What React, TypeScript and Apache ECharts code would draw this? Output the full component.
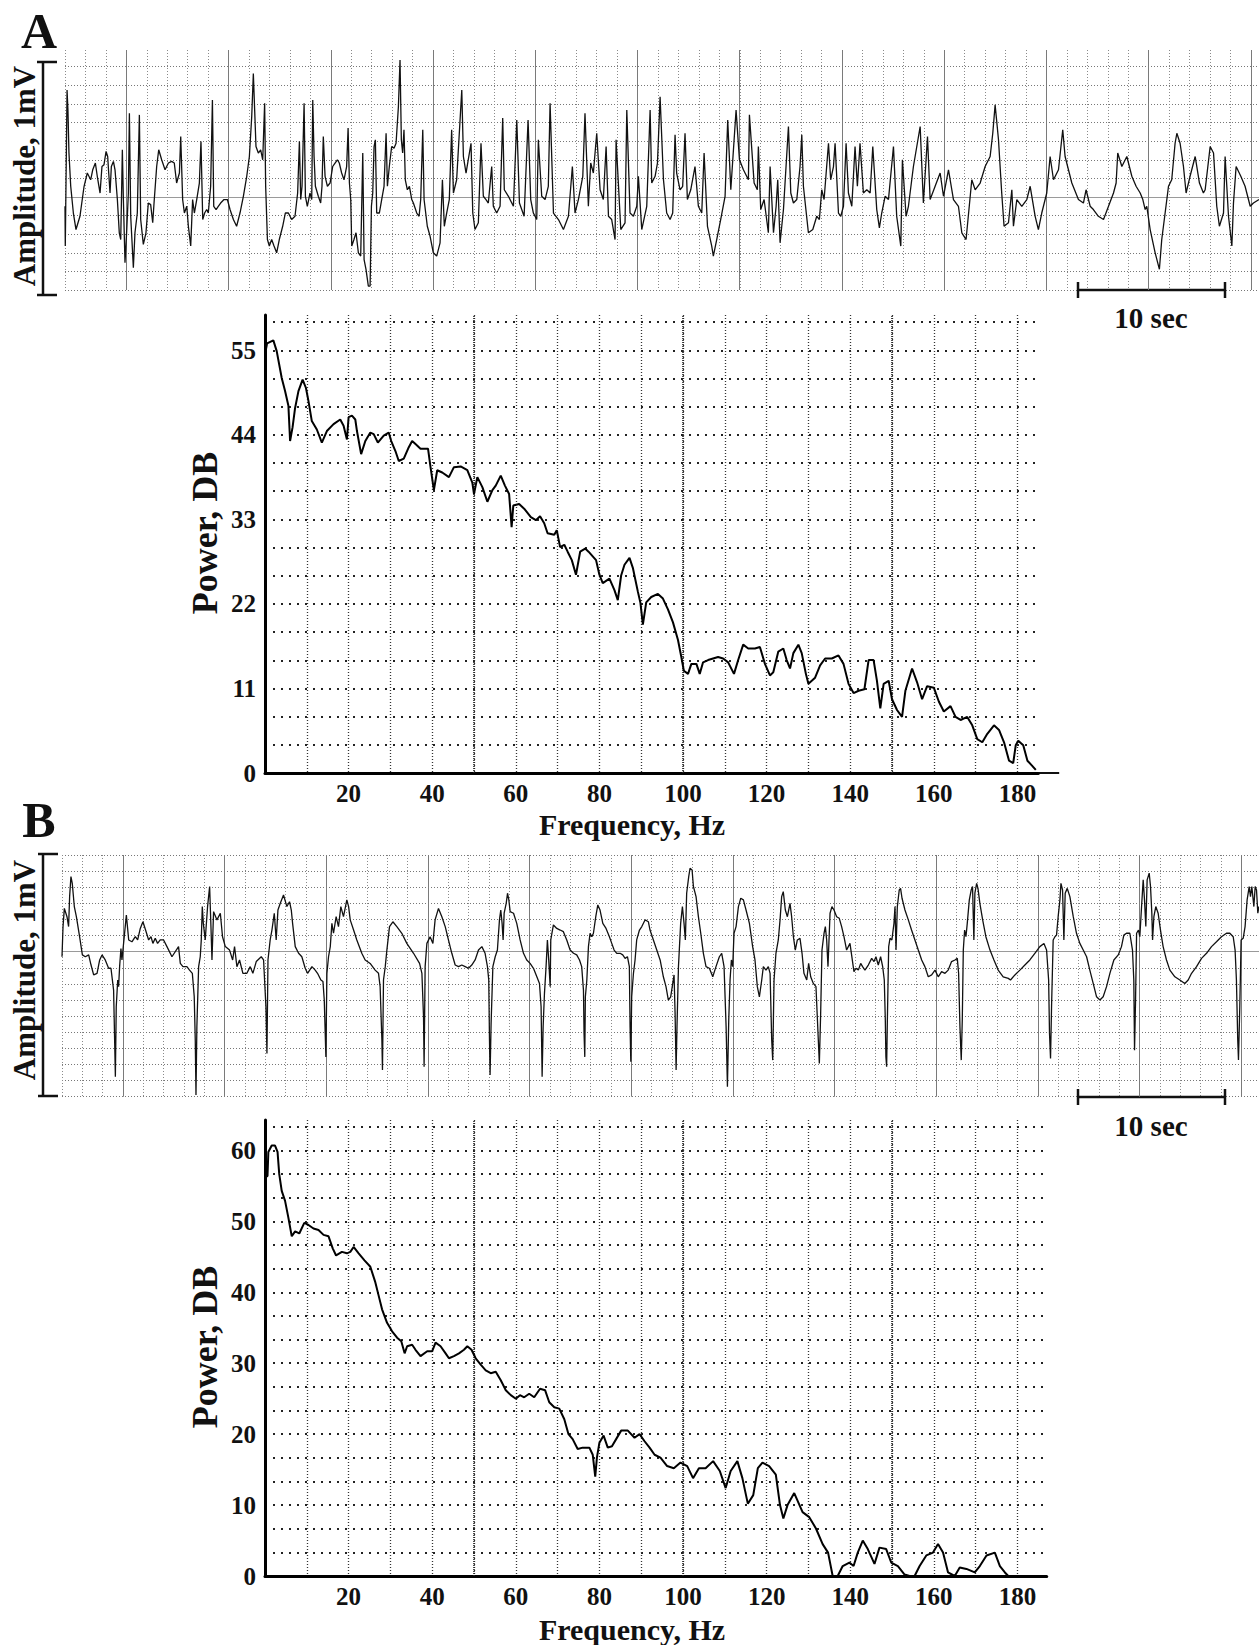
import React, { useEffect, useRef } from 'react';
import * as echarts from 'echarts';

// ---------- DATA ----------
// Trace A: [time (s), amplitude (mV)]
const traceA: [number, number][] = [
  [0,-0.040],[0.02,-0.211],[0.14,0.460],[0.20,0.374],[0.27,0.189],[0.39,0.046],[0.57,-0.069],[0.75,-0.140],[1.02,-0.083],[1.30,0.046],[1.52,0.103],[1.75,0.074],[1.89,0.117],[2.07,0.146],[2.20,0.089],[2.39,0.017],[2.52,0.131],[2.66,0.139],[2.80,0.196],[2.91,0.174],[2.98,0.103],[3.07,0.017],[3.16,0.131],[3.30,0.153],[3.41,0.117],[3.57,-0.011],[3.70,-0.154],[3.80,-0.183],[3.91,0.203],[3.98,-0.011],[4.09,-0.283],[4.20,-0.154],[4.32,0.017],[4.39,0.360],[4.48,-0.083],[4.66,-0.304],[4.77,-0.154],[4.93,-0.069],[5.07,0.353],[5.16,-0.097],[5.34,-0.204],[5.52,-0.154],[5.68,-0.026],[5.84,-0.033],[5.98,-0.111],[6.07,-0.026],[6.25,0.131],[6.39,0.203],[6.59,0.160],[6.82,0.117],[7.05,0.146],[7.27,0.153],[7.45,0.146],[7.61,0.060],[7.80,0.103],[7.89,0.260],[8.02,-0.011],[8.14,-0.069],[8.30,-0.040],[8.41,-0.126],[8.57,-0.211],[8.70,-0.011],[8.82,-0.069],[8.98,-0.011],[9.16,0.060],[9.27,0.239],[9.39,-0.097],[9.52,-0.069],[9.66,-0.054],[9.77,-0.069],[9.93,0.046],[10.05,0.417],[10.14,-0.040],[10.30,-0.054],[10.45,-0.040],[10.61,-0.026],[10.84,-0.011],[11.07,-0.011],[11.25,-0.054],[11.48,-0.097],[11.70,-0.126],[11.93,-0.069],[12.16,0.003],[12.39,0.089],[12.57,0.174],[12.73,0.346],[12.84,0.531],[12.93,0.374],[13.02,0.217],[13.18,0.189],[13.34,0.203],[13.48,0.160],[13.61,0.403],[13.68,0.046],[13.80,-0.183],[13.93,-0.211],[14.09,-0.183],[14.25,-0.211],[14.43,-0.240],[14.61,-0.183],[14.84,-0.126],[15.02,-0.069],[15.23,-0.069],[15.45,-0.097],[15.68,-0.083],[15.86,0.017],[15.98,0.239],[16.07,-0.011],[16.16,0.046],[16.30,0.403],[16.39,0.003],[16.52,-0.040],[16.70,0.017],[16.82,-0.011],[16.89,0.417],[16.98,0.174],[17.07,0.046],[17.27,0.003],[17.43,-0.026],[17.52,0.046],[17.61,0.260],[17.73,0.089],[17.89,0.046],[18.07,0.060],[18.25,0.131],[18.41,0.146],[18.57,0.160],[18.70,0.146],[18.86,0.103],[19.02,0.074],[19.20,0.131],[19.30,0.296],[19.39,0.060],[19.48,-0.011],[19.55,-0.211],[19.70,-0.183],[19.84,-0.154],[20.00,-0.240],[20.16,-0.254],[20.30,0.189],[20.39,-0.269],[20.52,-0.311],[20.68,-0.383],[20.80,-0.383],[20.89,-0.040],[20.98,0.017],[21.07,0.217],[21.16,0.246],[21.25,-0.069],[21.43,-0.069],[21.59,-0.011],[21.75,0.046],[21.89,0.274],[21.98,0.046],[22.11,0.131],[22.27,0.217],[22.43,0.210],[22.57,0.231],[22.73,0.389],[22.84,0.589],[22.93,0.246],[23.02,0.189],[23.11,0.289],[23.20,0.074],[23.34,0.031],[23.48,0.046],[23.64,-0.011],[23.75,-0.026],[23.98,-0.069],
  [24.14,-0.083],[24.25,-0.011],[24.39,0.289],[24.48,-0.011],[24.70,-0.126],[24.89,-0.169],[25.11,-0.240],[25.34,-0.254],[25.57,-0.197],[25.73,0.074],[25.86,-0.126],[26.02,-0.069],[26.20,-0.011],[26.36,0.289],[26.48,0.017],[26.70,0.074],[27.05,0.460],[27.16,0.174],[27.34,0.103],[27.68,0.231],[27.80,-0.069],[27.95,-0.140],[28.18,-0.111],[28.36,0.231],[28.52,0.003],[28.70,-0.011],[28.86,-0.026],[29.09,0.131],[29.20,-0.040],[29.43,-0.069],[29.66,-0.040],[29.84,0.339],[29.95,0.031],[30.23,0.003],[30.57,-0.040],[30.80,0.331],[30.98,-0.026],[31.30,-0.083],[31.57,0.331],[31.75,-0.011],[31.93,-0.069],[32.16,-0.097],[32.27,0.246],[32.50,0.003],[32.73,-0.011],[32.95,0.046],[33.07,0.403],[33.30,-0.069],[33.64,-0.097],[33.98,-0.140],[34.32,-0.083],[34.59,0.131],[34.77,-0.069],[35.00,-0.011],[35.30,0.089],[35.45,0.360],[35.68,-0.040],[35.84,0.146],[36.02,0.103],[36.25,0.274],[36.48,0.031],[36.70,-0.011],[36.89,0.217],[37.05,-0.083],[37.27,-0.097],[37.50,-0.183],[37.57,0.246],[37.89,-0.140],[38.18,-0.111],[38.30,0.374],[38.52,-0.069],[38.75,-0.083],[38.98,-0.040],[39.09,0.089],[39.32,-0.140],[39.66,-0.040],[39.89,0.374],[40.00,0.060],[40.23,0.089],[40.39,0.146],[40.57,0.431],[40.80,0.074],[41.02,-0.069],[41.25,-0.097],[41.43,-0.069],[41.59,0.267],[41.70,0.103],[41.93,0.031],[42.11,0.046],[42.27,0.274],[42.43,-0.011],[42.66,0.031],[42.95,0.131],[43.18,-0.040],[43.41,-0.069],[43.57,0.189],[43.80,-0.126],[44.09,-0.211],[44.20,-0.254],[44.43,-0.183],[44.70,-0.097],[45.00,0.003],[45.18,0.331],[45.39,0.031],[45.75,0.374],[45.98,0.160],[46.25,0.117],[46.59,0.074],[46.66,0.353],[46.98,0.060],[47.20,0.031],[47.27,0.217],[47.43,-0.054],[47.66,-0.011],[47.95,-0.154],[48.07,0.131],[48.30,-0.154],[48.48,-0.040],[48.59,0.074],[48.75,-0.197],[48.98,-0.054],[49.32,0.303],[49.48,0.017],[49.66,-0.026],[49.89,-0.011],[50.11,0.131],[50.23,0.267],[50.34,0.046],[50.68,-0.154],[50.98,-0.140],[51.25,-0.083],[51.43,-0.097],[51.59,0.031],[51.75,-0.011],[52.05,0.231],
  [52.20,0.074],[52.39,0.131],[52.50,0.231],[52.73,-0.069],[52.89,-0.083],[53.07,-0.040],[53.25,0.231],[53.41,0.017],[53.64,-0.040],[53.86,0.217],[54.02,0.046],[54.20,0.231],[54.43,0.017],[54.66,0.031],[54.89,0.017],[55.07,0.217],[55.34,-0.054],[55.52,-0.133],[55.68,-0.069],[55.91,0.003],[56.14,-0.011],[56.48,0.217],[56.70,-0.083],[56.98,-0.211],[57.09,0.160],[57.34,-0.083],[57.50,-0.040],[57.84,0.131],[58.30,0.303],[58.52,-0.026],[58.80,0.260],[58.98,-0.011],[59.32,0.046],[59.66,0.103],[59.89,0.003],[60.23,0.117],[60.57,-0.011],[60.91,-0.040],[61.14,-0.154],[61.43,-0.183],[61.82,0.074],[62.05,0.031],[62.39,0.060],[62.73,0.131],[63.07,0.174],[63.25,0.274],[63.41,0.396],[63.64,0.246],[63.86,0.017],[64.02,-0.126],[64.32,-0.111],[64.55,0.031],[64.66,-0.126],[64.89,-0.011],[65.23,-0.040],[65.57,-0.011],[65.80,0.046],[66.14,-0.083],[66.36,-0.140],[66.59,-0.069],[66.93,0.017],[67.16,0.174],[67.39,0.074],[67.73,0.117],[68.02,0.289],[68.18,0.174],[68.64,0.060],[69.09,-0.011],[69.43,-0.026],[69.61,0.031],[69.89,-0.040],[70.11,-0.054],[70.45,-0.083],[70.80,-0.097],[71.14,-0.040],[71.48,0.017],[71.66,0.060],[71.77,0.189],[72.05,0.131],[72.39,0.174],[72.73,0.089],[73.02,0.046],[73.30,0.017],[73.48,-0.011],[73.64,-0.054],[73.75,-0.040],[73.98,-0.140],[74.32,-0.240],[74.61,-0.311],[74.77,-0.183],[75.00,-0.069],[75.23,0.046],[75.45,0.074],[75.68,0.231],[75.80,0.274],[76.02,0.231],[76.25,0.131],[76.43,0.017],[76.70,0.089],[77.05,0.174],[77.34,0.060],[77.61,0.017],[77.73,0.031],[78.07,0.217],[78.30,0.189],[78.52,-0.040],[78.70,-0.126],[78.98,-0.069],[79.09,0.174],[79.32,-0.083],[79.55,-0.211],[79.66,-0.026],[79.84,0.131],[80.16,0.089],[80.45,0.046],[80.80,-0.040],[81.02,-0.026],[81.40,-0.011],
];

// Trace B: [time (s), amplitude (mV)]
const traceB: [number, number][] = [
  [0.00,-0.022],[0.07,0.109],[0.16,0.188],[0.34,0.152],[0.45,0.109],[0.52,0.239],[0.61,0.326],[0.70,0.297],[0.84,0.196],[0.98,0.152],[1.20,0.065],[1.39,-0.014],[1.59,-0.022],[1.82,-0.014],[1.98,-0.058],[2.16,-0.101],[2.39,-0.094],[2.57,-0.036],[2.73,-0.014],[2.95,-0.036],[3.18,-0.072],[3.34,-0.072],[3.52,-0.167],[3.59,-0.384],[3.64,-0.543],[3.70,-0.239],[3.80,-0.123],[3.86,-0.152],[3.93,-0.065],[4.02,0.014],[4.09,-0.036],[4.39,0.159],[4.55,0.051],[4.77,0.043],[5.00,0.065],[5.16,0.051],[5.34,0.101],[5.52,0.130],[5.70,0.094],[5.91,0.051],[6.07,0.065],[6.20,0.036],[6.36,0.058],[6.52,0.036],[6.70,0.051],[6.93,0.051],[7.16,0.022],[7.50,-0.022],[7.95,0.022],[8.07,-0.051],[8.25,-0.065],[8.52,-0.065],[8.70,-0.080],[8.89,-0.094],[9.02,-0.196],[9.09,-0.384],[9.14,-0.623],[9.20,-0.326],[9.32,-0.065],[9.43,-0.022],[9.50,0.051],[9.57,0.196],[9.64,0.123],[9.77,0.051],[9.93,0.196],[10.07,0.283],[10.16,0.109],[10.23,-0.036],[10.34,0.174],[10.57,0.138],[10.80,0.167],[10.95,0.065],[11.14,0.022],[11.43,0.007],[11.64,-0.036],[11.77,0.022],[11.93,-0.065],[12.11,-0.036],[12.34,-0.094],[12.61,-0.094],[12.84,-0.065],[13.02,-0.094],[13.25,-0.043],[13.59,-0.022],[13.75,-0.036],[13.91,-0.239],[13.98,-0.442],[14.05,-0.036],[14.20,0.051],[14.32,0.094],[14.48,0.167],[14.61,0.051],[14.73,0.181],[14.89,0.210],[15.11,0.246],[15.34,0.196],[15.52,0.217],[15.64,0.181],[15.73,0.123],[15.91,0.022],[16.14,-0.007],[16.36,-0.022],[16.59,-0.072],[16.75,-0.094],[17.05,-0.065],[17.27,-0.080],[17.43,-0.094],[17.66,-0.123],[17.80,-0.130],[17.89,-0.210],[18.00,-0.457],[18.07,-0.094],[18.18,-0.022],[18.30,0.022],[18.41,0.123],[18.52,0.080],[18.70,0.152],[18.86,0.109],[19.02,0.196],[19.20,0.152],[19.43,0.225],[19.55,0.196],[19.66,0.138],[19.89,0.094],[20.11,0.051],[20.45,-0.007],[20.68,-0.036],[21.02,-0.051],[21.36,-0.080],[21.59,-0.094],[21.70,-0.152],[21.82,-0.384],[21.86,-0.514],[21.93,-0.123],[22.05,-0.065],[22.16,0.007],[22.34,0.109],[22.57,0.130],[22.84,0.109],[23.18,0.080],[23.52,0.036],[23.98,-0.007],[24.39,-0.051],[24.55,-0.094],[24.66,-0.283],[24.70,-0.500],[24.77,-0.065],[24.89,0.036],
  [25.11,0.065],[25.30,0.036],[25.45,0.138],[25.68,0.188],[25.91,0.152],[26.14,0.109],[26.36,0.051],[26.59,-0.007],[26.82,-0.058],[27.05,-0.065],[27.27,-0.058],[27.50,-0.065],[27.73,-0.072],[27.95,-0.058],[28.18,-0.036],[28.41,0.007],[28.64,0.022],[28.86,-0.007],[29.02,-0.065],[29.11,-0.123],[29.16,-0.384],[29.20,-0.536],[29.27,-0.312],[29.39,-0.065],[29.55,-0.022],[29.70,0.007],[29.84,0.138],[29.93,0.181],[30.02,0.123],[30.09,0.051],[30.16,0.167],[30.30,0.210],[30.39,0.254],[30.48,0.225],[30.57,0.174],[30.80,0.167],[31.02,0.123],[31.25,0.051],[31.48,-0.007],[31.70,-0.036],[31.93,-0.051],[32.16,-0.072],[32.39,-0.109],[32.57,-0.138],[32.68,-0.239],[32.75,-0.543],[32.82,-0.326],[32.91,-0.181],[33.02,-0.065],[33.11,0.051],[33.20,-0.036],[33.30,-0.152],[33.34,0.051],[33.52,0.116],[33.75,0.101],[33.98,0.094],[34.20,0.087],[34.43,0.051],[34.66,0.007],[34.89,-0.007],[35.11,-0.014],[35.30,-0.036],[35.45,-0.065],[35.57,-0.167],[35.61,-0.355],[35.66,-0.457],[35.70,-0.196],[35.80,-0.123],[35.91,0.022],[36.02,0.080],[36.14,0.065],[36.25,0.080],[36.41,0.152],[36.55,0.203],[36.70,0.181],[36.89,0.123],[37.11,0.101],[37.34,0.065],[37.50,0.036],[37.66,0.007],[37.84,-0.007],[38.07,-0.007],[38.25,-0.014],[38.41,-0.029],[38.57,-0.022],[38.70,-0.065],[38.75,-0.326],[38.80,-0.478],[38.86,-0.196],[38.98,-0.094],[39.09,-0.036],[39.20,0.051],[39.39,0.094],[39.55,0.109],[39.77,0.138],[40.00,0.130],[40.11,0.094],[40.34,0.051],[40.57,0.007],[40.80,-0.036],[41.02,-0.109],[41.20,-0.152],[41.36,-0.210],[41.52,-0.196],[41.66,-0.138],[41.75,-0.101],[41.82,-0.268],[41.89,-0.514],[41.95,-0.326],[42.05,-0.065],[42.20,0.123],[42.32,0.196],[42.43,0.123],[42.52,0.051],[42.61,0.254],[42.75,0.326],[42.84,0.362],[42.98,0.355],[43.07,0.283],[43.25,0.239],[43.41,0.152],[43.57,0.080],[43.75,-0.007],[43.93,-0.065],[44.16,-0.072],[44.39,-0.109],[44.61,-0.065],[44.84,-0.022],[45.00,-0.007],[45.16,-0.065],[45.30,-0.326],[45.39,-0.587],[45.48,-0.297],[45.57,-0.123],[45.66,-0.036],[45.75,-0.065],[45.84,0.080],[45.98,0.109],[46.14,0.196],[46.30,0.232],[46.48,0.225],[46.66,0.181],[46.89,0.123],[47.11,0.022],[47.27,-0.036],[47.43,-0.152],[47.57,-0.196],[47.73,-0.123],[47.84,-0.065],[48.02,-0.080],[48.18,-0.065],[48.30,-0.094],[48.41,-0.384],[48.48,-0.471],[48.57,-0.123],[48.70,-0.007],[48.86,0.051],[48.98,0.138],[49.09,0.239],[49.20,0.261],[49.34,0.181],[49.48,0.152],[49.66,0.210],[49.77,0.152],[49.89,0.065],[50.02,0.007],[50.16,0.051],[50.34,0.058],[50.48,-0.007],[50.61,-0.094],[50.80,-0.123],[50.93,-0.051],[51.07,-0.109],[51.25,-0.138],[51.43,-0.152],[51.52,-0.283],[51.59,-0.384],[51.66,-0.486],[51.75,-0.268],[51.84,0.007],[51.98,0.080],[52.07,0.109],[52.16,0.051],[52.25,-0.065],[52.39,0.167],[52.52,0.196],[52.66,0.181],[52.84,0.152],[53.02,0.145],[53.18,0.109],[53.34,0.065],[53.52,0.007],[53.75,0.036],
  [54.02,-0.087],[54.16,-0.072],[54.32,-0.080],[54.48,-0.051],[54.61,-0.065],[54.77,-0.080],[55.00,-0.058],[55.23,-0.029],[55.39,-0.043],[55.52,-0.022],[55.68,-0.058],[55.84,-0.022],[55.98,-0.065],[56.09,-0.123],[56.16,-0.297],[56.20,-0.457],[56.25,-0.500],[56.30,-0.297],[56.39,0.022],[56.48,0.058],[56.61,0.051],[56.75,0.123],[56.82,0.196],[56.89,0.007],[56.98,0.196],[57.11,0.268],[57.20,0.275],[57.30,0.232],[57.50,0.181],[57.73,0.138],[57.95,0.094],[58.18,0.051],[58.41,0.007],[58.64,-0.036],[58.86,-0.065],[59.09,-0.109],[59.32,-0.101],[59.55,-0.080],[59.77,-0.109],[60.00,-0.087],[60.23,-0.094],[60.45,-0.080],[60.68,-0.043],[60.91,-0.036],[61.07,-0.029],[61.16,-0.094],[61.25,-0.326],[61.34,-0.471],[61.41,-0.297],[61.48,0.007],[61.57,0.094],[61.66,0.065],[61.75,0.123],[61.89,0.225],[62.02,0.268],[62.11,0.283],[62.20,0.051],[62.27,0.254],[62.39,0.297],[62.48,0.275],[62.61,0.210],[62.80,0.138],[63.02,0.065],[63.30,0.007],[63.57,-0.036],[63.86,-0.080],[64.20,-0.109],[64.55,-0.116],[64.70,-0.123],[65.00,-0.101],[65.34,-0.080],[65.68,-0.058],[66.02,-0.036],[66.36,-0.007],[66.70,0.022],[66.98,0.036],[67.16,0.007],[67.30,-0.123],[67.36,-0.355],[67.43,-0.464],[67.50,-0.239],[67.61,0.051],[67.73,0.065],[67.84,0.072],[67.95,0.152],[68.07,0.225],[68.14,0.297],[68.25,0.268],[68.34,0.051],[68.43,0.254],[68.57,0.275],[68.75,0.239],[68.98,0.152],[69.20,0.080],[69.43,0.036],[69.66,0.007],[69.89,-0.022],[70.11,-0.080],[70.34,-0.138],[70.57,-0.196],[70.80,-0.210],[71.02,-0.196],[71.25,-0.152],[71.48,-0.094],[71.75,-0.036],[72.05,-0.014],[72.27,0.022],[72.43,0.072],[72.61,0.080],[72.84,0.080],[73.02,0.007],[73.11,-0.123],[73.16,-0.428],[73.23,-0.210],[73.30,0.080],[73.43,0.094],[73.52,0.065],[73.64,0.196],[73.75,0.312],[73.84,0.225],[73.93,0.109],[74.02,0.312],[74.16,0.341],[74.25,0.283],[74.34,0.167],[74.39,0.051],[74.48,0.152],[74.61,0.196],[74.77,0.167],[74.93,0.094],[75.11,0.022],[75.34,-0.036],[75.57,-0.080],[75.91,-0.109],[76.25,-0.123],[76.59,-0.138],[76.82,-0.123],[77.05,-0.094],[77.39,-0.065],[77.73,-0.029],[78.07,-0.007],[78.41,0.022],[78.75,0.043],[79.09,0.065],[79.43,0.080],[79.66,0.080],[79.89,0.065],[80.02,0.007],[80.11,-0.123],[80.20,-0.384],[80.25,-0.471],[80.34,-0.239],[80.43,0.051],[80.57,0.058],[80.70,0.109],[80.84,0.225],[80.98,0.283],[81.07,0.239],[81.16,0.283],[81.30,0.196],[81.39,0.283],[81.48,0.268],[81.57,0.167],[81.64,0.196],
];

// Spectrum A: [frequency (Hz), power (dB)]
const spectrumA: [number, number][] = [
  [0,54.5],[0.5,55.9],[2.0,56.3],[2.8,54.9],[4.0,51.4],[4.8,49.7],[5.6,47.8],[6.0,43.2],[6.6,45.0],[7.2,47.5],[8.0,49.7],[9.0,51.2],[9.8,50.1],[10.4,48.4],[11.2,45.8],[12.4,44.7],[13.6,43.0],[14.8,44.5],[16.4,45.4],[18.0,46.0],[18.8,45.2],[19.6,43.4],[20.0,46.3],[20.8,46.5],[21.6,46.0],[22.0,44.5],[23.0,41.5],[24.0,43.2],[25.2,44.3],[26.0,44.1],[27.0,43.0],[28.4,43.9],[29.6,44.3],[30.2,43.2],[31.2,41.9],[32.0,40.6],[33.2,40.9],[34.4,42.4],[35.2,43.2],[36.0,42.8],[37.2,42.2],[39.0,42.2],[39.6,39.8],[40.4,36.8],[41.2,39.4],[42.4,39.1],[44.0,38.5],[45.2,39.8],[46.8,39.9],[48.4,39.4],[49.6,37.8],[50.0,36.3],[50.8,38.5],[52.0,37.2],[53.2,35.3],[54.4,36.8],[55.2,37.4],[56.4,38.7],[57.4,37.4],[58.4,36.3],[59.0,32.0],[59.4,34.8],[60.8,35.0],[62.0,34.4],[63.6,33.3],[64.8,32.9],[65.8,33.4],[66.8,32.5],[67.6,31.2],[69.2,31.0],[69.8,31.6],[70.6,29.4],[71.6,29.7],[72.4,28.8],[73.4,27.7],[74.4,25.8],[75.4,28.8],[76.6,29.2],[77.4,28.8],[79.2,27.7],[80.0,25.8],[80.8,24.7],[82.4,25.3],[83.6,23.8],[84.4,22.5],[85.2,25.7],[86.0,27.1],[87.2,28.0],[88.0,26.7],[89.2,23.6],[89.8,22.2],[90.4,19.3],[91.2,22.2],[92.4,22.9],[94.0,23.3],[95.2,22.7],[96.4,21.3],[97.6,19.6],[98.8,17.3],[99.6,15.1],[100.2,13.3],[101.2,12.9],[102.0,14.2],[103.2,14.2],[104.0,12.9],[104.8,14.4],[106.0,14.7],[107.2,14.9],[108.4,15.1],[109.6,14.9],[110.8,14.4],[112.2,12.9],[113.2,14.7],[114.4,16.7],[115.6,16.2],[117.2,16.2],[118.4,16.4],[119.6,14.2],[120.8,12.7],[121.6,13.1],[122.8,15.8],[124.0,16.2],[124.8,14.7],[125.6,13.6],[126.4,15.6],[127.6,16.7],[128.4,15.6],[129.4,12.9],[130.0,11.6],[131.6,12.4],[132.8,14.0],[134.0,14.9],[135.6,14.9],[137.2,15.3],[138.4,14.2],[139.6,11.6],[140.8,10.4],[142.0,10.7],[143.4,10.9],[144.4,14.7],[145.6,14.7],[146.4,12.0],[147.2,8.4],[148.0,11.6],[149.2,12.0],[150.0,9.6],[151.2,8.2],[152.4,7.3],[153.2,10.7],[154.8,13.6],[156.0,11.8],[157.2,9.6],[158.4,11.3],[160.0,11.1],[161.2,9.3],[162.4,8.0],[164.0,8.7],[165.2,7.3],[166.4,6.9],[168.0,7.3],[169.2,6.2],[170.4,4.4],[171.6,4.0],[172.8,5.1],[174.4,6.2],[175.6,5.6],[176.8,4.0],[178.0,1.6],[179.0,1.3],[179.6,3.6],[180.2,4.2],[181.4,3.6],[182.4,1.6],[183.6,0.9],[184.4,0.4],
];

// Spectrum B: [frequency (Hz), power (dB)]
const spectrumB: [number, number][] = [
  [0,49.5],[0.1,56.2],[0.6,56.4],[0.8,59.8],[1.6,60.7],[2.4,60.7],[3.0,59.8],[3.4,56.7],[4.0,54.3],[4.8,52.9],[5.6,50.5],[6.4,47.9],[7.2,48.6],[8.2,48.3],[9.4,49.8],[10.4,49.5],[11.6,49.0],[12.8,48.8],[14.0,48.1],[15.2,47.9],[16.2,46.2],[17.0,45.2],[18.4,45.7],[19.6,45.5],[20.4,45.7],[21.2,46.4],[22.4,45.5],[23.8,44.5],[25.2,43.6],[26.4,41.4],[27.2,39.5],[28.0,37.6],[29.2,35.7],[30.4,34.5],[31.6,33.6],[32.6,33.1],[33.4,31.4],[34.0,32.4],[35.2,32.6],[36.0,31.9],[37.2,31.0],[38.8,31.7],[40.0,31.7],[40.8,32.9],[42.0,32.4],[43.2,31.4],[44.0,30.7],[45.2,31.0],[46.4,31.4],[47.6,31.9],[48.4,32.4],[49.4,31.9],[50.4,30.7],[51.6,29.8],[52.8,29.0],[54.0,28.6],[55.2,28.8],[56.4,27.6],[57.6,26.2],[58.8,25.5],[60.0,25.0],[61.0,25.5],[62.0,25.2],[63.2,25.7],[64.4,25.2],[65.8,26.4],[67.0,26.2],[68.0,24.5],[69.2,23.8],[70.4,23.6],[71.6,22.1],[72.6,20.0],[73.6,19.3],[74.8,17.9],[76.0,18.1],[77.6,18.1],[78.4,17.1],[79.0,14.0],[79.4,16.7],[80.0,18.8],[81.0,19.8],[82.0,18.1],[83.0,18.3],[84.0,19.3],[85.2,20.5],[86.8,20.5],[88.4,19.5],[89.6,20.0],[90.8,19.0],[92.0,18.1],[93.2,17.1],[94.6,16.7],[96.2,15.5],[97.8,15.2],[99.4,16.0],[101.0,15.5],[102.4,13.8],[103.8,15.2],[105.4,15.2],[107.2,16.2],[108.8,14.8],[110.2,12.4],[111.4,14.8],[113.0,16.2],[114.2,13.8],[115.5,10.2],[116.8,11.4],[117.9,15.2],[119.0,16.0],[120.6,15.5],[122.2,14.3],[123.2,10.0],[124.0,8.1],[125.0,10.0],[126.6,11.7],[128.6,9.0],[130.2,8.3],[131.8,6.7],[133.4,4.5],[134.7,3.3],[135.8,0],[137.0,0],[138.2,1.4],[139.8,1.9],[140.8,1.4],[141.8,3.3],[143.0,5.0],[144.2,3.8],[145.8,1.7],[147.0,4.0],[148.6,3.8],[149.8,1.9],[151.4,1.4],[153.0,0.2],[154.2,0],[155.4,0],[156.6,1.4],[158.2,2.9],[159.8,3.3],[161.0,4.5],[162.2,3.3],[163.4,0.5],[165.0,0],[166.2,1.2],[167.8,1.0],[169.8,0.5],[171.0,1.4],[172.6,2.9],[174.6,3.3],[175.8,1.4],[177.0,0.5],[177.8,0],
];

// Tick labels
const specAPowerLabels = [0, 11, 22, 33, 44, 55];
const specBPowerLabels = [0, 10, 20, 30, 40, 50, 60];
const freqLabels = [20, 40, 60, 80, 100, 120, 140, 160, 180];
const freqMajorLines = [50, 100, 150];

// Axis ranges / grid steps
const TRACE_A_CELL = 1.394; // seconds per grid column
const TRACE_B_CELL = 1.387;
const TRACE_A_END = 81.4;
const TRACE_B_END = 81.65;
const AMP_A_STEP = 0.08;
const AMP_B_STEP = 0.07;
const SPEC_A_STEP = 11 / 3;
const SPEC_B_STEP = 10 / 3;

const SERIF = '"Liberation Serif", "DejaVu Serif", serif';

const labelIf = (allowed: number[]) => (v: number) => {
  const r = Math.round(v);
  return Math.abs(v - r) < 1e-6 && allowed.includes(r) ? `{b|${r}}` : '';
};
const boldRich = { b: { fontFamily: SERIF, fontWeight: 'bold', fontSize: 25, color: '#111' } };

const darkCols = (cell: number, end: number) => {
  const out: any[] = [];
  for (let k = 3; k * cell <= end; k += 5) out.push({ xAxis: k * cell });
  return out;
};

const traceX = (gridIndex: number, end: number, cell: number) => ({
  type: 'value', gridIndex, min: 0, max: end, interval: cell,
  axisLine: { show: false }, axisTick: { show: false }, axisLabel: { show: false },
  splitLine: { show: true, showMaxLine: false, lineStyle: { color: '#8a8a8a', type: [1, 2], width: 1 } },
});
const traceY = (gridIndex: number, min: number, max: number, step: number, hideMax: boolean) => ({
  type: 'value', gridIndex, min, max, interval: step,
  axisLine: { show: false }, axisTick: { show: false }, axisLabel: { show: false },
  splitLine: { show: true, showMaxLine: !hideMax, lineStyle: { color: '#777', type: [1, 2], width: 1 } },
});
const labelStyle = { fontFamily: SERIF, fontWeight: 'bold', fontSize: 25, color: '#111', rich: boldRich };
const specX = (gridIndex: number, max: number) => ({
  type: 'value', gridIndex, min: 0, max, interval: 10,
  axisLine: { show: true, lineStyle: { color: '#000', width: 3 } },
  axisTick: { show: false },
  axisLabel: { ...labelStyle, margin: 8, formatter: labelIf(freqLabels) },
  splitLine: { show: true, showMinLine: false, showMaxLine: false, lineStyle: { color: '#333', type: [1, 2], width: 1.3 } },
});
const specY = (gridIndex: number, max: number, step: number, labels: number[]) => ({
  type: 'value', gridIndex, min: 0, max, interval: step,
  axisLine: { show: true, lineStyle: { color: '#000', width: 3 } },
  axisTick: { show: false },
  axisLabel: { ...labelStyle, margin: 9, formatter: labelIf(labels) },
  splitLine: { show: true, showMinLine: false, showMaxLine: false, lineStyle: { color: '#222', type: [2, 6], width: 1.8 } },
});

function buildOption() {
  const darkTraceStyle = { color: '#7a7a7a', type: 'solid', width: 1 };
  const zeroStyle = { color: '#9a9a9a', type: 'solid', width: 1.2 };
  const majorFreqStyle = { color: '#222', type: [1, 1], width: 1.6 };
  const mk = (items: any[]) => ({ silent: true, z: 1, symbol: ['none', 'none'], label: { show: false }, data: items });
  return {
    animation: false,
    grid: [
      { left: 65, top: 50, width: 1194, height: 240 },
      { left: 265, top: 315, width: 773.3, height: 458 },
      { left: 62, top: 855, width: 1197, height: 241.7 },
      { left: 265, top: 1120, width: 781.7, height: 456 },
    ],
    xAxis: [
      traceX(0, TRACE_A_END, TRACE_A_CELL),
      specX(1, 185),
      traceX(2, TRACE_B_END, TRACE_B_CELL),
      specX(3, 187),
    ],
    yAxis: [
      traceY(0, -5 * AMP_A_STEP, 0.632, AMP_A_STEP, true),
      specY(1, 59.6, SPEC_A_STEP, specAPowerLabels),
      traceY(2, -9 * AMP_B_STEP, 6 * AMP_B_STEP, AMP_B_STEP, false),
      specY(3, 64.3, SPEC_B_STEP, specBPowerLabels),
    ],
    series: [
      {
        type: 'line', xAxisIndex: 0, yAxisIndex: 0, data: traceA, symbol: 'none', z: 3,
        lineStyle: { color: '#111', width: 1.3 },
        markLine: mk([
          { yAxis: 0, lineStyle: zeroStyle },
          ...darkCols(TRACE_A_CELL, TRACE_A_END).map((d) => ({ ...d, lineStyle: darkTraceStyle })),
        ]),
      },
      {
        type: 'line', xAxisIndex: 1, yAxisIndex: 1, data: spectrumA, symbol: 'none', z: 3,
        lineStyle: { color: '#000', width: 2 },
        markLine: mk(freqMajorLines.map((f) => ({ xAxis: f, lineStyle: majorFreqStyle }))),
      },
      {
        type: 'line', xAxisIndex: 2, yAxisIndex: 2, data: traceB, symbol: 'none', z: 3,
        lineStyle: { color: '#111', width: 1.3 },
        markLine: mk([
          { yAxis: 0, lineStyle: zeroStyle },
          ...darkCols(TRACE_B_CELL, TRACE_B_END).map((d) => ({ ...d, lineStyle: darkTraceStyle })),
        ]),
      },
      {
        type: 'line', xAxisIndex: 3, yAxisIndex: 3, data: spectrumB, symbol: 'none', z: 3,
        lineStyle: { color: '#000', width: 2 },
        markLine: mk(freqMajorLines.map((f) => ({ xAxis: f, lineStyle: majorFreqStyle }))),
      },
    ],
  };
}

function txt(x: number, y: number, text: string, size: number, rotation = 0) {
  return {
    type: 'text', x, y, rotation, silent: true,
    style: {
      text, fontSize: size, fontWeight: 'bold', fontFamily: SERIF, fill: '#111',
      align: 'center', verticalAlign: 'middle', textAlign: 'center', textVerticalAlign: 'middle',
    },
  };
}
function ln(x1: number, y1: number, x2: number, y2: number, w = 2.5) {
  return { type: 'line', silent: true, shape: { x1, y1, x2, y2 }, style: { stroke: '#111', lineWidth: w } };
}

function buildGraphic(chart: any) {
  const a185 = chart.convertToPixel({ gridIndex: 1 }, [185, 0]);
  const a190 = chart.convertToPixel({ gridIndex: 1 }, [190, 0]);
  return [
    txt(39, 31, 'A', 50),
    txt(39, 820, 'B', 50),
    txt(24, 176, 'Amplitude, 1mV', 31, Math.PI / 2),
    txt(24, 970, 'Amplitude, 1mV', 31, Math.PI / 2),
    // amplitude scale bars
    ln(43, 62, 43, 295), ln(37, 62, 57, 62), ln(37, 295, 57, 295),
    ln(43, 854, 43, 1096), ln(38, 854, 58, 854), ln(38, 1096, 58, 1096),
    // 10 sec bars
    ln(1078, 290, 1225, 290), ln(1078, 282, 1078, 298), ln(1225, 282, 1225, 298),
    ln(1078, 1097, 1225, 1097), ln(1078, 1089, 1078, 1105), ln(1225, 1089, 1225, 1105),
    txt(1151, 318, '10 sec', 29),
    txt(1151, 1126, '10 sec', 29),
    txt(205, 533, 'Power, DB', 36, Math.PI / 2),
    txt(205, 1347, 'Power, DB', 36, Math.PI / 2),
    txt(632, 824, 'Frequency, Hz', 30),
    txt(632, 1629, 'Frequency, Hz', 30),
    ln(a185[0], a185[1], a190[0], a190[1], 2),
  ];
}

export default function App() {
  const ref = useRef<HTMLDivElement>(null);
  useEffect(() => {
    if (!ref.current) return;
    const chart = echarts.init(ref.current, null, { renderer: 'svg' });
    chart.setOption(buildOption() as any);
    chart.setOption({ graphic: buildGraphic(chart) } as any);
    return () => chart.dispose();
  }, []);
  return (
    <div
      ref={ref}
      style={{ position: 'absolute', left: 0, top: 0, width: 1259, height: 1645, background: '#fff' }}
    />
  );
}
